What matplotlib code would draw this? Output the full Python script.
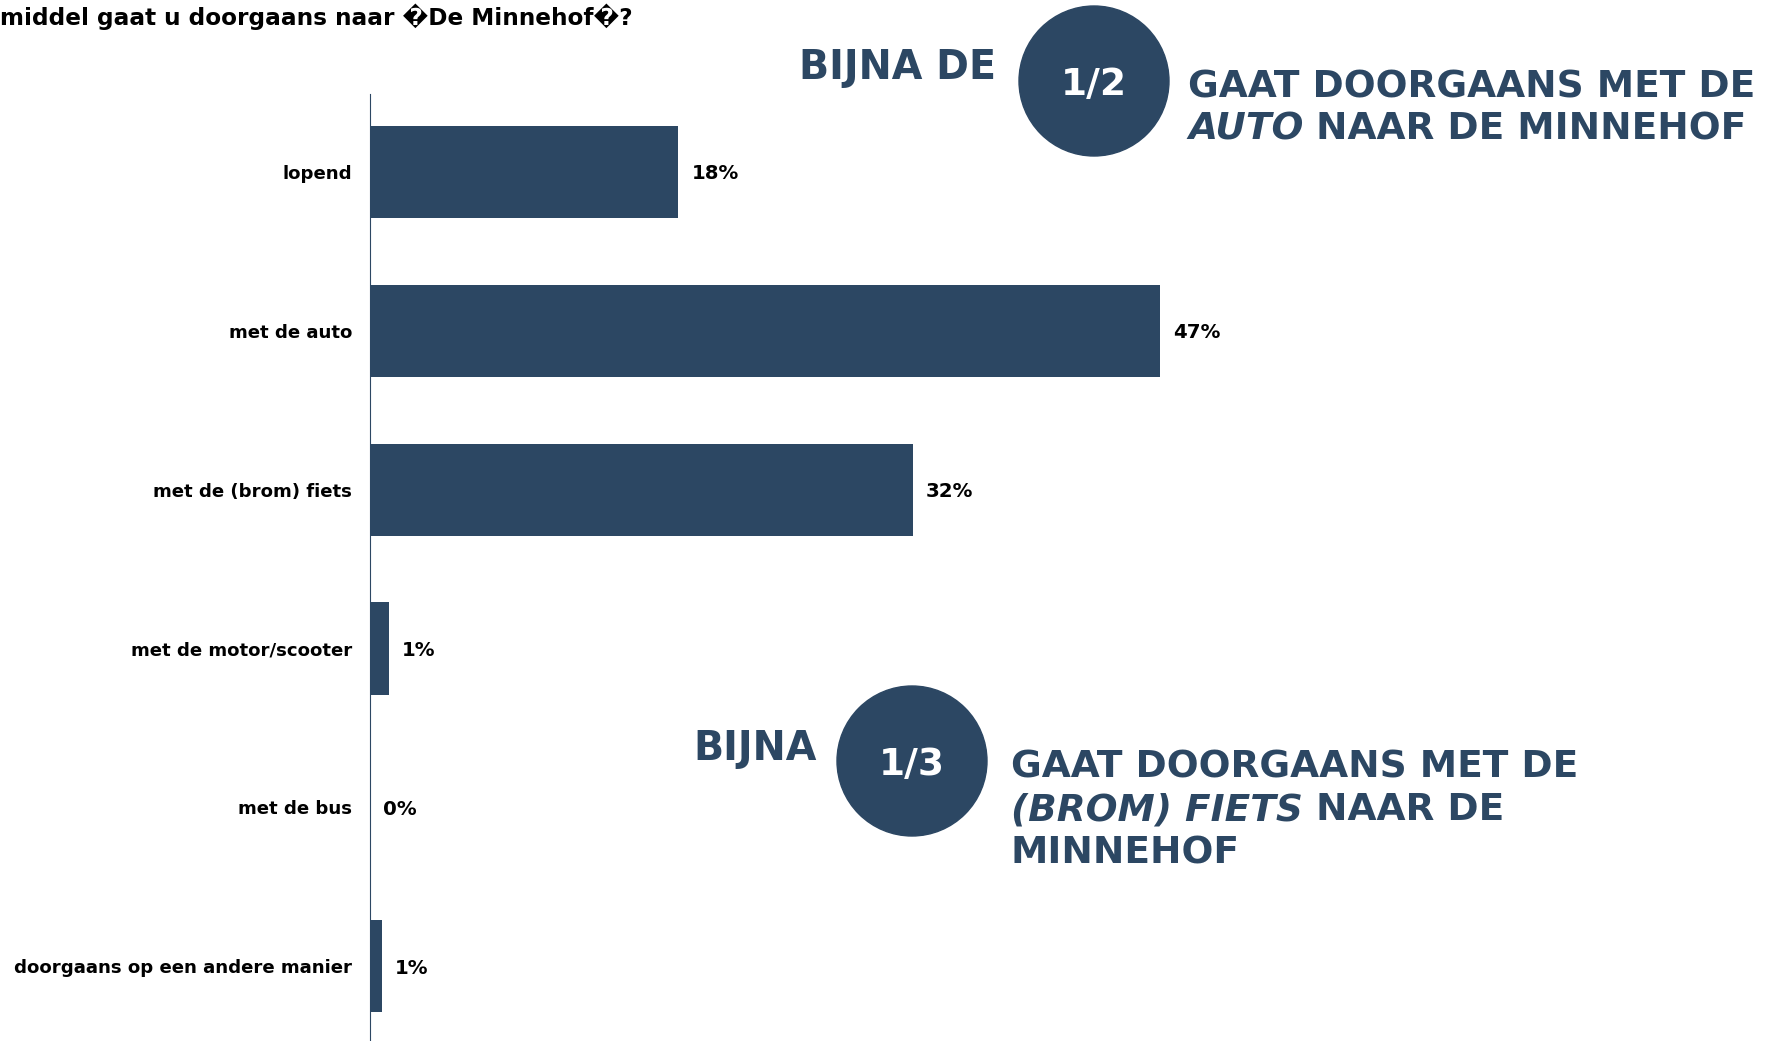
import matplotlib.pyplot as plt
from matplotlib.patches import Ellipse

categories = ["lopend", "met de auto", "met de (brom) fiets", "met de motor/scooter",
              "met de bus", "doorgaans op een andere manier"]
values = [18.3, 46.9, 32.2, 1.1, 0.0, 0.7]
labels = ["18%", "47%", "32%", "1%", "0%", "1%"]
title = "middel gaat u doorgaans naar \ufffdDe Minnehof\ufffd?"

navy = "#2C4763"
W, H = 1777, 1041

fig = plt.figure(figsize=(W / 100, H / 100), dpi=100)
ax = fig.add_axes([370 / W, 0, 1 - 370 / W, 1 - 94 / H])
pos = list(range(len(categories)))
ax.barh(pos, values, height=0.58, color=navy)
ax.set_ylim(len(categories) - 0.53, -0.49)
ax.set_xlim(0, (W - 370) / 16.85)
for s in ["top", "right", "bottom"]:
    ax.spines[s].set_visible(False)
ax.spines["left"].set_color(navy)
ax.set_xticks([])
ax.set_yticks(pos)
ax.set_yticklabels(categories, fontsize=13.1, fontweight="bold")
ax.tick_params(axis="y", length=0, pad=13)
for i, (v, lab) in enumerate(zip(values, labels)):
    ax.annotate(lab, (v, i), xytext=(13, -2), textcoords="offset pixels",
                va="center", ha="left", fontsize=14.2, fontweight="bold")

fig.text(0, 1 - 17 / H, title, va="center", ha="left", fontsize=16.7, fontweight="bold")

# callouts, positions in pixels from top-left
def px(x, y):
    return x / W, 1 - y / H

def circle(cx, cy, r, txt):
    fig.patches.append(Ellipse(px(cx, cy), 2 * r / W, 2 * r / H, transform=fig.transFigure,
                               color=navy, zorder=1))
    fig.text(*px(cx, cy + 14), txt, ha="center", va="baseline", fontsize=27,
             fontweight="bold", color="white", zorder=3)

def line(x, y, parts, size=27):
    r = fig.canvas.get_renderer()
    for txt, style in parts:
        t = fig.text(*px(x, y), txt, fontsize=size, fontweight="bold", style=style,
                     color=navy, va="baseline", ha="left", zorder=3)
        x = t.get_window_extent(r).x1

circle(1094, 81, 75, "1/2")
circle(912, 761, 75, "1/3")
line(799, 79, [("BIJNA DE", "normal")], size=28.5)
line(1188, 97, [("GAAT DOORGAANS MET DE", "normal")])
line(1188, 140, [("AUTO", "italic"), (" NAAR DE MINNEHOF", "normal")])
line(693, 760, [("BIJNA", "normal")], size=28.5)
line(1011, 777, [("GAAT DOORGAANS MET DE", "normal")])
line(1011, 820, [("(BROM) FIETS", "italic"), (" NAAR DE", "normal")])
line(1011, 863, [("MINNEHOF", "normal")])

fig.savefig("out.png", dpi=100)
